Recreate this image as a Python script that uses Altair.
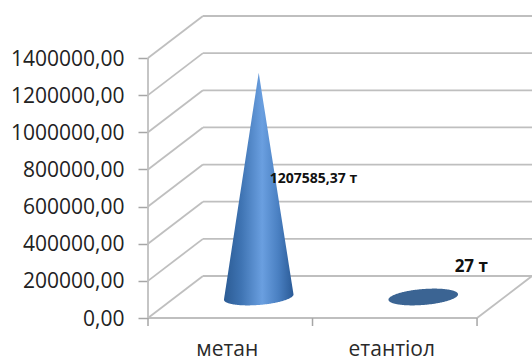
import numpy as np
import pandas as pd
import altair as alt

categories = ["метан", "етантіол"]
values = [1207585.37, 27]
value_labels = ["1207585,37 т", "27 т"]
y_ticks = [0, 200000, 400000, 600000, 800000, 1000000, 1200000, 1400000]

# Oblique projection of the 3D box, in data units
Y_MAX = 1400000
PER_PIXEL = Y_MAX / 260
DEPTH_Y = 42 * PER_PIXEL
DEPTH_X = 0.334
X_DOMAIN = [0, 2 + DEPTH_X]
# The scale runs below zero to leave room for the category labels inside the view
Y_DOMAIN = [-39 * PER_PIXEL, 302 * PER_PIXEL]
RADIUS = 0.2
MAJOR = 33 / 164.5
CONE_SHIFT = 0.006

x_scale = alt.Scale(domain=X_DOMAIN, nice=False, zero=False)
y_scale = alt.Scale(domain=Y_DOMAIN, nice=False, zero=False)
x_plain = alt.X("x:Q", scale=x_scale, axis=None)

# Value axis: labels and ticks only, the line itself is part of the box edges
y_axis = alt.Axis(
    values=y_ticks,
    title=None,
    grid=False,
    domain=False,
    tickSize=10,
    tickColor="#a6a6a6",
    tickWidth=1.5,
    labelPadding=14,
    labelOffset=1,
    labelFont="Open Sans",
    labelFontSize=21,
    labelColor="#222222",
    labelExpr="replace(format(datum.value, '.2f'), '.', ',')",
)
y_plain = alt.Y("y:Q", scale=y_scale, axis=y_axis)

# Box edges: back wall, left wall, floor
segments = []
for tick in y_ticks:
    segments.append((0, tick, DEPTH_X, tick + DEPTH_Y))
    segments.append((DEPTH_X, tick + DEPTH_Y, X_DOMAIN[1], tick + DEPTH_Y))
segments.append((0, 0, 2, 0))
segments.append((2, 0, 2 + DEPTH_X, DEPTH_Y))
segments.append((0, 0, 0, Y_MAX))
edges = pd.DataFrame(segments, columns=["x", "y", "x2", "y2"])

box = alt.Chart(edges).mark_rule(color="#bfbfbf", strokeWidth=1.8).encode(
    x=x_plain, y=y_plain, x2="x2:Q", y2="y2:Q"
)

# Category ticks under the floor edge
cat_ticks = alt.Chart(pd.DataFrame({"x": [0, 1, 2], "y": [0, 0, 0], "y2": [-8 * PER_PIXEL] * 3})).mark_rule(
    color="#a6a6a6", strokeWidth=1.5
).encode(x=x_plain, y=y_plain, y2="y2:Q")


def cone_outline(center, value):
    """Area outline of a cone standing on a circle drawn on the floor plane."""
    tilt = np.arctan2(DEPTH_X * RADIUS, MAJOR)
    half_width = np.hypot(DEPTH_X * RADIUS, MAJOR)
    phi = np.linspace(np.pi, 0, 121)
    dx = np.cos(phi)
    upper = np.sin(phi) * np.cos(tilt) + dx * np.sin(tilt)
    lower = -np.sin(phi) * np.cos(tilt) + dx * np.sin(tilt)
    floor_mid = DEPTH_Y * 0.5
    y_up = floor_mid + DEPTH_Y * RADIUS * upper
    y_low = floor_mid + DEPTH_Y * RADIUS * lower
    apex = floor_mid + value
    left = floor_mid - DEPTH_Y * RADIUS * np.sin(tilt)
    right = floor_mid + DEPTH_Y * RADIUS * np.sin(tilt)
    side = np.where(dx < 0, left + (apex - left) * (dx + 1), right + (apex - right) * (1 - dx))
    return pd.DataFrame(
        {
            "x": center + DEPTH_X / 2 + CONE_SHIFT + half_width * dx,
            "y": np.maximum(y_up, side),
            "y2": y_low,
        }
    )


cone_fill = alt.Gradient(
    gradient="linear",
    x1=0,
    x2=1,
    y1=0,
    y2=0,
    stops=[
        alt.GradientStop(color="#2b5b94", offset=0),
        alt.GradientStop(color="#3f74b3", offset=0.25),
        alt.GradientStop(color="#6a9fe0", offset=0.55),
        alt.GradientStop(color="#4a80c2", offset=0.78),
        alt.GradientStop(color="#2a5a96", offset=1),
    ],
)

marks = []
for i, value in enumerate(values):
    fill = cone_fill if value > Y_MAX * 0.01 else "#3b6493"
    marks.append(
        alt.Chart(cone_outline(i + 0.5, value)).mark_area(color=fill).encode(
            x=x_plain, y=y_plain, y2="y2:Q"
        )
    )

# Value labels, anchored on each cone's axis at half its height
label_offsets = [(12, -6, "left", 14), (49, -30, "center", 17)]
labels = []
for i, (value, text) in enumerate(zip(values, value_labels)):
    dx, dy, align, size = label_offsets[i]
    labels.append(
        alt.Chart(
            pd.DataFrame({"x": [i + 0.5 + DEPTH_X / 2], "y": [DEPTH_Y / 2 + value / 2], "t": [text]})
        )
        .mark_text(
            font="Open Sans", fontWeight="bold", fontSize=size, color="#111111",
            align=align, baseline="middle", dx=dx, dy=dy,
        )
        .encode(x=x_plain, y=y_plain, text="t:N")
    )

cat_labels = (
    alt.Chart(pd.DataFrame({"x": [0.5, 1.5], "y": [-32 * PER_PIXEL] * 2, "t": categories}))
    .mark_text(font="Open Sans", fontSize=21, color="#2a2a2a", align="center", baseline="middle", dx=-3)
    .encode(x=x_plain, y=y_plain, text="t:N")
)

chart = (
    alt.layer(box, cat_ticks, *marks, *labels, cat_labels)
    .properties(
        width=384,
        height=341,
        padding={"left": 148, "top": 16, "right": 0, "bottom": 0},
        autosize=alt.AutoSizeParams(type="none"),
    )
    .configure_view(stroke=None)
)

chart.save("out.html", embed_options={"renderer": "svg", "actions": False})
